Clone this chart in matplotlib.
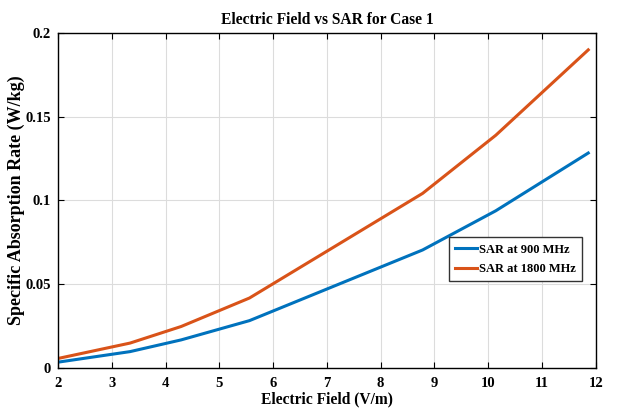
import matplotlib.pyplot as plt

# electric field (V/m) and SAR (W/kg)
e_field = [2, 3.34, 4.29, 5.56, 8.78, 10.14, 11.86]
sar_900 = [0.0033, 0.0096, 0.0166, 0.0281, 0.0703, 0.0937, 0.1282]
sar_1800 = [0.0055, 0.0147, 0.0246, 0.0416, 0.1041, 0.1388, 0.1898]

plt.rcParams['font.family'] = ['Liberation Serif', 'DejaVu Serif']
plt.rcParams['font.weight'] = 'bold'

fig = plt.figure(figsize=(6.21, 4.15), dpi=100)
ax = fig.add_axes([0.0934, 0.114, 0.866, 0.807])

ax.plot(e_field, sar_900, color=(0, 0.447, 0.741), lw=2.2, label="SAR at 900 MHz")
ax.plot(e_field, sar_1800, color=(0.85, 0.325, 0.098), lw=2.2, label="SAR at 1800 MHz")

ax.set_xlim(2, 12)
ax.set_ylim(0, 0.2)
ax.set_xticks(range(2, 13))
ax.set_yticks([0, 0.05, 0.1, 0.15, 0.2])
ax.set_yticklabels(["0", "0.05", "0.1", "0.15", "0.2"])
ax.tick_params(direction='in', top=True, right=True, labelsize=10.5, length=4)
ax.tick_params(axis='x', pad=7)
ax.tick_params(axis='y', pad=5)
for lab in ax.get_xticklabels() + ax.get_yticklabels():
    lab.set_fontweight('bold')
ax.grid(True, color='#dcdcdc', lw=0.8)
for s in ax.spines.values():
    s.set_linewidth(1.0)

ax.set_title("Electric Field vs SAR for Case 1", fontsize=11.2, fontweight='bold', pad=6)
ax.set_xlabel("Electric Field (V/m)", fontsize=11.2, fontweight='bold', labelpad=1)
ax.set_ylabel("Specific Absorption Rate (W/kg)", fontsize=13, fontweight='bold')
ax.yaxis.set_label_coords(-0.061, 0.5)

leg = ax.legend(loc='lower right', bbox_to_anchor=(0.975, 0.258), fontsize=9,
                fancybox=False, framealpha=1, edgecolor='#333333',
                handlelength=1.8, handletextpad=0.15, borderpad=0.5, labelspacing=0.6,
                borderaxespad=0)
for t in leg.get_texts():
    t.set_fontweight('bold')

fig.savefig("out.png", dpi=100)
